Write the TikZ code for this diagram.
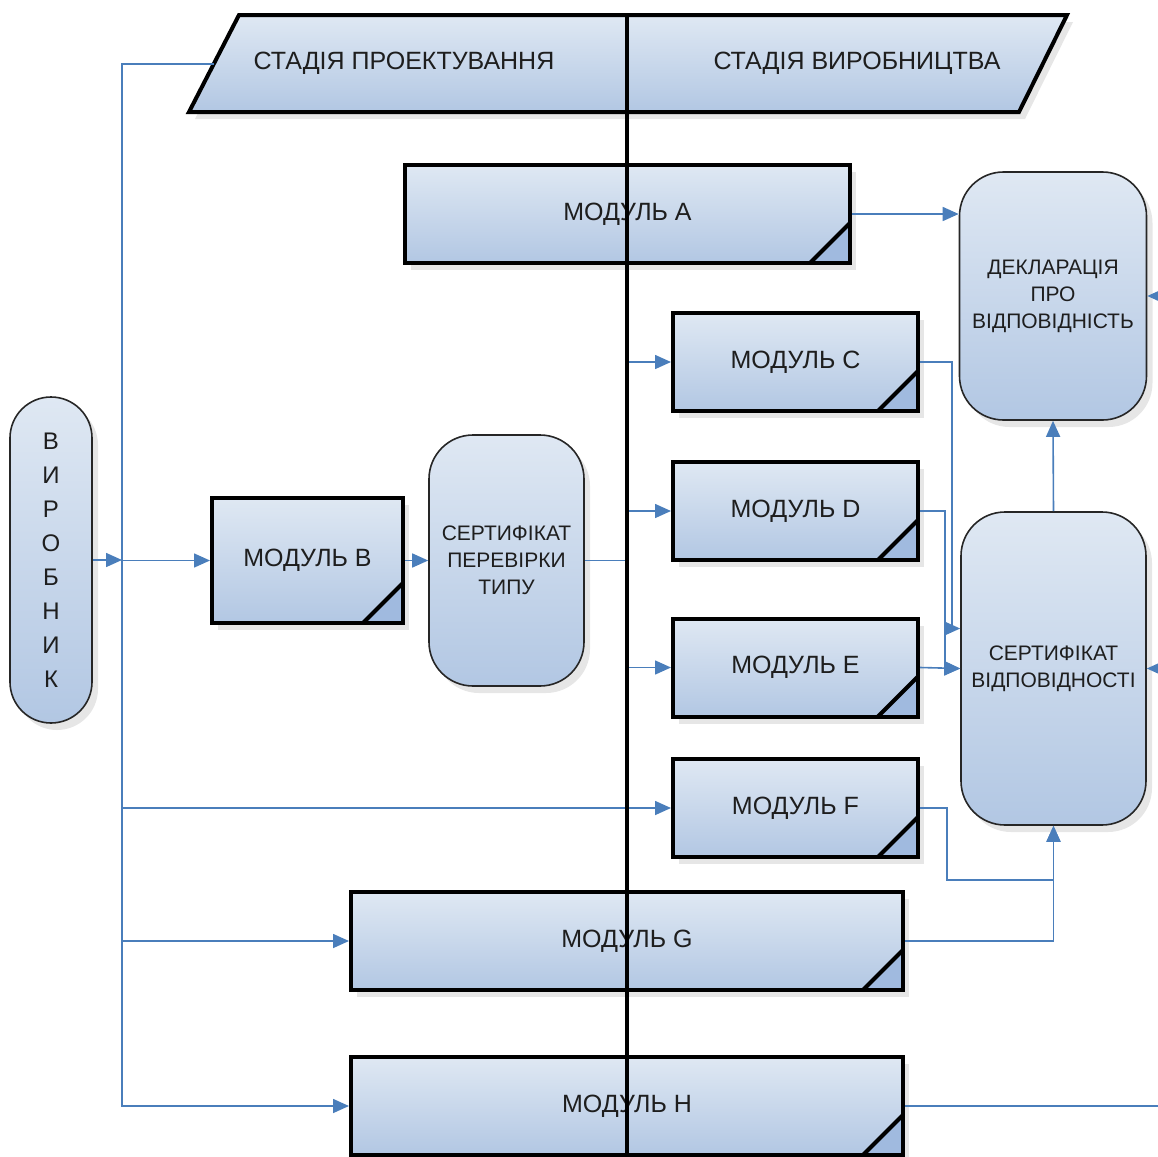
\documentclass[tikz,border=0pt]{standalone}
\usepackage{fontspec}
\setmainfont{Liberation Sans}
\usetikzlibrary{arrows.meta, positioning, shadows, calc}

\definecolor{boxtop}{HTML}{DFE8F3}
\definecolor{boxbot}{HTML}{B2C7E3}
\definecolor{foldblue}{HTML}{A0BADF}
\definecolor{linkblue}{HTML}{4A7EBB}
\definecolor{inkgray}{HTML}{1E1E1E}

\begin{document}
\begin{tikzpicture}[x=0.5pt, y=-0.5pt, >={Triangle[length=8pt, width=7pt]},
    bluefill/.style={top color=boxtop, bottom color=boxbot,
        drop shadow={opacity=0.2, shadow xshift=3pt, shadow yshift=-3.5pt}},
    modulebox/.style={rectangle, bluefill, draw=black, line width=2pt,
        minimum height=49pt, text=inkgray, font=\fontsize{12.5}{15}\selectfont,
        path picture={
            \fill[foldblue] (path picture bounding box.south east) -- ++(-20pt,0) -- ++(20pt,20pt) -- cycle;
            \draw[line width=2pt] (path picture bounding box.south east) ++(-20pt,0) -- ++(20pt,20pt);
        }},
    docbox/.style={rectangle, rounded corners=22pt, bluefill, draw=black!85,
        line width=0.8pt, align=center, text=inkgray, font=\fontsize{10.5}{13.5}\selectfont},
    link/.style={draw=linkblue, line width=0.8pt}]

    \useasboundingbox (0,0) rectangle (1158,1157);

    % stages
    \draw[bluefill, draw=black, line width=2pt] (239,15) -- (1067,15) -- (1019,112) -- (189,112) -- cycle;
    \node (design) at (404,63) [text=inkgray, font=\fontsize{12.5}{15}\selectfont] {СТАДІЯ ПРОЕКТУВАННЯ};
    \node (production) at (857,63) [text=inkgray, font=\fontsize{12.5}{15}\selectfont] {СТАДІЯ ВИРОБНИЦТВА};
    \coordinate (stagein) at (214,64);

    % modules
    \node (modA) at (627.5,214) [modulebox, minimum width=222.5pt] {МОДУЛЬ А};
    \node (modB) at (307.5,560.5) [modulebox, minimum width=95.5pt, minimum height=62.5pt] {МОДУЛЬ В};
    \node (modC) at (795.5,362) [modulebox, minimum width=122.5pt] {МОДУЛЬ С};
    \node (modD) at (795.5,511) [modulebox, minimum width=122.5pt] {МОДУЛЬ D};
    \node (modE) at (795.5,667.5) [modulebox, minimum width=122.5pt] {МОДУЛЬ E};
    \node (modF) at (795.5,808) [modulebox, minimum width=122.5pt] {МОДУЛЬ F};
    \node (modG) at (627,941) [modulebox, minimum width=276pt] {МОДУЛЬ G};
    \node (modH) at (627,1106) [modulebox, minimum width=276pt] {МОДУЛЬ H};

    % documents
    \node (maker) at (51,560) [docbox, rounded corners=20.5pt, minimum width=41pt, minimum height=163pt,
        font=\fontsize{12}{17}\selectfont] {В\\И\\Р\\О\\Б\\Н\\И\\К};
    \node (typecert) at (506.5,560.5) [docbox, minimum width=77.5pt, minimum height=125.5pt] {СЕРТИФІКАТ\\ПЕРЕВІРКИ\\ТИПУ};
    \node (decl) at (1053,296) [docbox, minimum width=93.5pt, minimum height=124pt] {ДЕКЛАРАЦІЯ\\ПРО\\ВІДПОВІДНІСТЬ};
    \node (cert) at (1053.5,668.5) [docbox, minimum width=92.5pt, minimum height=156.5pt] {СЕРТИФІКАТ\\ВІДПОВІДНОСТІ};

    % left bus
    \coordinate (bus) at (122,64);
    \draw[link, ->] (stagein) -- (bus) |- (modH.west);
    \draw[link, ->] (bus |- modF.west) -- (modF.west);
    \draw[link, ->] (bus |- modG.west) -- (modG.west);
    \draw[link, ->] (maker.east) -- (bus |- maker.east);
    \draw[link, ->] (bus |- modB.west) -- (modB.west);
    \draw[link, ->] (modB.east) -- (typecert.west);

    % production branch
    \coordinate (split) at (627,560.5);
    \draw[link] (typecert.east) -- (split);
    \draw[link, ->] (split) |- (modC.west);
    \draw[link, ->] (split) |- (modD.west);
    \draw[link, ->] (split) |- (modE.west);

    % to documents
    \draw[link, ->] (modA.east) -- (modA.east -| decl.west);
    \draw[link, ->] (modC.east) -- ++(32,0) |- ($(cert.west)+(0,-40)$);
    \draw[link, ->] (modD.east) -- ++(25,0) |- (cert.west);
    \draw[link, ->] (modE.east) -- (cert.west);
    \draw[link, ->] (modF.east) -- ++(27,0) -- ++(0,72) -| (cert.south);
    \draw[link, ->] (modG.east) -| (cert.south);
    \draw[link, ->] (cert.north) -- (decl.south);

    % from outside the frame
    \coordinate (declout) at (1170,296);
    \coordinate (certout) at (1170,668.5);
    \coordinate (hout) at (1170,1106);
    \draw[link, ->] (declout) -- (decl.east);
    \draw[link, ->] (certout) -- (cert.east);
    \draw[link] (modH.east) -- (hout);

    % divider
    \draw[line width=1.6pt] (627,15) -- (627,1170);
\end{tikzpicture}
\end{document}
